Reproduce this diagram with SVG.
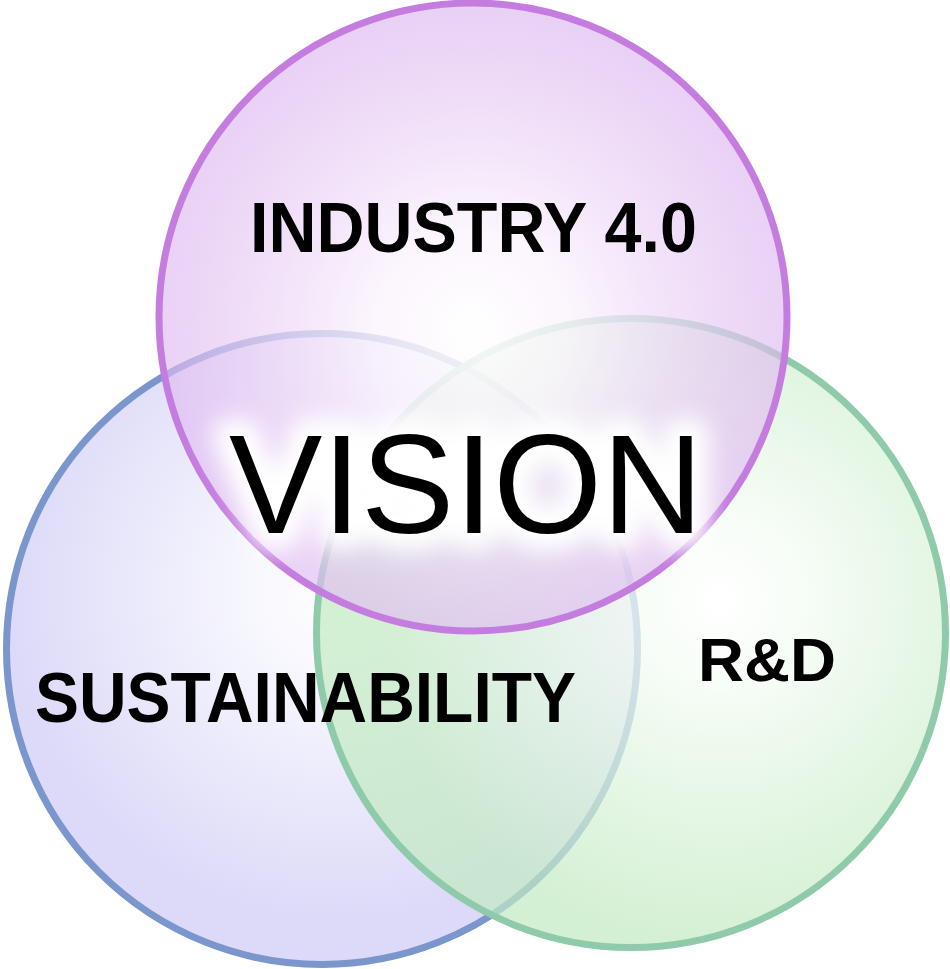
<svg xmlns="http://www.w3.org/2000/svg" width="950" height="969" viewBox="0 0 950 969">
  <defs>
    <radialGradient id="gBlue" gradientUnits="userSpaceOnUse" cx="340" cy="590" r="330">
      <stop offset="0" stop-color="#ffffff"/>
      <stop offset="0.25" stop-color="#f8f8fe"/>
      <stop offset="1" stop-color="#dcdaf8"/>
    </radialGradient>
    <radialGradient id="gGreen" gradientUnits="userSpaceOnUse" cx="720" cy="600" r="340">
      <stop offset="0" stop-color="#ffffff" stop-opacity="0.8"/>
      <stop offset="0.25" stop-color="#f4fcf4" stop-opacity="0.75"/>
      <stop offset="1" stop-color="#c2eac2" stop-opacity="0.7"/>
    </radialGradient>
    <radialGradient id="gPurple" gradientUnits="userSpaceOnUse" cx="473" cy="330" r="330">
      <stop offset="0" stop-color="#ffffff" stop-opacity="0.9"/>
      <stop offset="0.3" stop-color="#fbf3fd" stop-opacity="0.8"/>
      <stop offset="1" stop-color="#dbb3ef" stop-opacity="0.62"/>
    </radialGradient>
    <filter id="glow" x="-20%" y="-40%" width="140%" height="180%">
      <feGaussianBlur stdDeviation="11"/>
    </filter>
    <style>
      .circ { stroke-width: 7; }
      .lbl { font-family: "Liberation Sans", Arial, sans-serif; font-weight: bold; fill: #000000; }
      .vis { font-family: "Liberation Sans", Arial, sans-serif; fill: #000000; }
    </style>
  </defs>

  <rect x="0" y="0" width="950" height="969" fill="#ffffff"/>

  <g id="sustainability">
    <circle class="circ" cx="322" cy="649" r="315.5" fill="url(#gBlue)" stroke="#7b96cc"/>
  </g>

  <g id="rnd">
    <circle class="circ" cx="631" cy="633" r="314.5" fill="url(#gGreen)" stroke="#8fcbab"/>
  </g>

  <g id="industry">
    <circle class="circ" cx="473" cy="317" r="314" fill="url(#gPurple)" stroke="#c47ddf"/>
  </g>

  <g id="vision">
    <text x="229" y="533" font-size="141" textLength="474" lengthAdjust="spacingAndGlyphs" class="vis" stroke="#ffffff" stroke-width="34" stroke-linejoin="round" filter="url(#glow)" style="fill:#ffffff">VISION</text>
    <text x="229" y="533" font-size="141" textLength="474" lengthAdjust="spacingAndGlyphs" class="vis">VISION</text>
  </g>

  <g id="labels">
    <text x="250" y="252" font-size="70" textLength="447" lengthAdjust="spacingAndGlyphs" class="lbl">INDUSTRY 4.0</text>
    <text x="35" y="722" font-size="70" textLength="541" lengthAdjust="spacingAndGlyphs" class="lbl">SUSTAINABILITY</text>
    <text x="698" y="681" font-size="62" textLength="138" lengthAdjust="spacingAndGlyphs" class="lbl">R&amp;D</text>
  </g>
</svg>
